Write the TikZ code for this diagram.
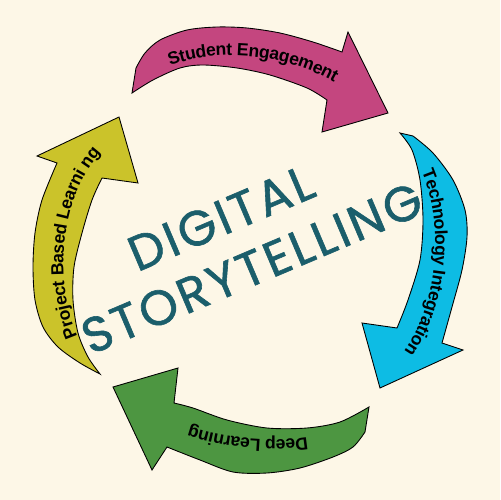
\documentclass[tikz,border=0pt]{standalone}
\usepackage{fontspec}
\setmainfont{Liberation Sans}
\newfontfamily\lblfam{Liberation Sans}
\newfontfamily\titlefont[LetterSpace=6,FakeBold=1.2]{Poppins}
\usetikzlibrary{decorations.text}
\definecolor{bg}{HTML}{FDF7E7}
\definecolor{mag}{HTML}{C4467F}
\definecolor{cya}{HTML}{0DBCE4}
\definecolor{grn}{HTML}{4D9641}
\definecolor{yel}{HTML}{CBC32A}
\definecolor{teal}{HTML}{1B5E6B}
\tikzset{
  arrowshape/.style={draw=black, line width=0.5pt, line join=miter},
  lbl/.style={font=\lblfam\fontsize{12}{14}\selectfont, decorate, decoration={text along path, text align=center, raise=-4pt, text={|\bfseries|#1}}},
  title/.style={text=teal, font=\titlefont\fontsize{28}{30}\selectfont, rotate=23, inner sep=0pt}
}
\begin{document}
\begin{tikzpicture}[x=0.02cm,y=0.02cm]
\fill[bg] (0,0) rectangle (500,-500);
\useasboundingbox (0,0) rectangle (500,-500);

% magenta (top)
\draw[arrowshape, fill=mag] plot[smooth] coordinates {(136,-68) (145,-53) (160,-40) (187,-30) (217,-27) (247,-28) (280,-33) (313,-42) (342,-52)}
  -- (348,-32) -- (388,-113) -- (322,-132) -- (327,-100)
  -- plot[smooth] coordinates {(327,-100) (307,-88) (270,-75) (237,-68) (203,-65) (180,-68) (153,-80) (132,-93)} -- cycle;
\path[lbl={Student Engagement}] (134,-80) .. controls (180,-35) and (300,-35) .. (370,-100);

% cyan (right)
\draw[arrowshape, fill=cya] plot[smooth] coordinates {(413,-136) (433,-153) (453,-180) (465,-210) (467,-237) (462,-270) (452,-307) (442,-343)}
  -- (463,-350) -- (380,-388) -- (362,-323) -- (397,-328)
  -- plot[smooth] coordinates {(397,-328) (408,-300) (420,-260) (423,-220) (420,-180) (412,-150) (400,-133)} -- cycle;
\path[lbl={Technology Integration}] (406,-135) .. controls (460,-190) and (455,-330) .. (382,-385);

% green (bottom)
\draw[arrowshape, fill=grn] plot[smooth] coordinates {(365,-432) (353,-447) (333,-457) (300,-468) (267,-473) (233,-472) (200,-460) (167,-447)}
  -- (152,-470) -- (113,-387) -- (178,-368) -- (174,-403)
  -- plot[smooth] coordinates {(174,-403) (193,-408) (227,-420) (267,-428) (307,-428) (340,-422) (369,-407)} -- cycle;
\path[lbl={Deep Learning}] (367,-420) .. controls (320,-460) and (200,-455) .. (130,-405);

% yellow (left)
\draw[arrowshape, fill=yel] plot[smooth] coordinates {(100,-374) (80,-363) (58,-347) (43,-327) (35,-300) (33,-267) (35,-233) (42,-200) (57,-163)}
  -- (37,-156) -- (119,-117) -- (138,-183) -- (102,-178)
  -- plot[smooth] coordinates {(102,-178) (92,-200) (82,-233) (74,-267) (73,-300) (78,-333) (88,-357) (100,-374)} -- cycle;
\path[lbl={Project Based Learni ng}] (92,-370) .. controls (40,-320) and (40,-170) .. (125,-125);

% title
\node[title] (t1) at (221,-218) {DIGITAL};
\node[title] (t2) at (252,-268) {STORYTELLING};
\end{tikzpicture}
\end{document}
